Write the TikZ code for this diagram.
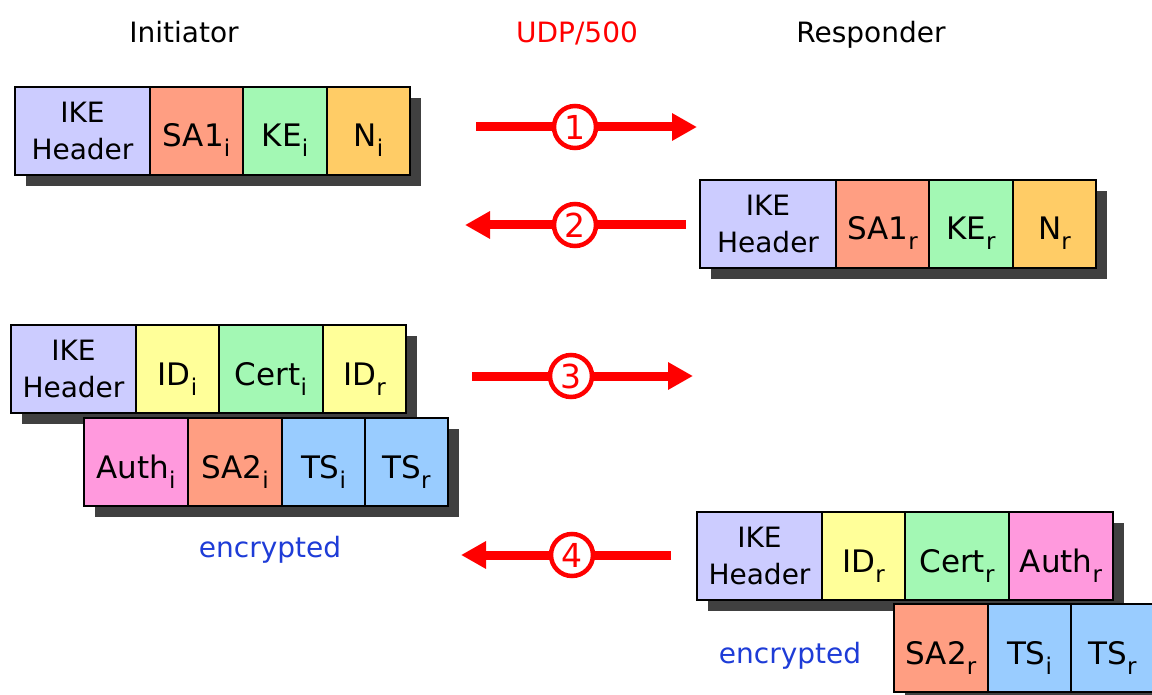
\documentclass[tikz,border=0pt]{standalone}
\usepackage{fontspec}
\setmainfont{DejaVu Sans}
\usetikzlibrary{arrows.meta}

\definecolor{hdr}{RGB}{204,204,255}
\definecolor{sa}{RGB}{255,158,130}
\definecolor{ke}{RGB}{163,248,180}
\definecolor{nonce}{RGB}{255,204,102}
\definecolor{idc}{RGB}{255,255,153}
\definecolor{auth}{RGB}{255,153,221}
\definecolor{ts}{RGB}{153,204,255}
\definecolor{dropgray}{RGB}{64,64,64}
\definecolor{encblue}{RGB}{30,60,215}

% lowered, smaller index letter
\newcommand\lo[1]{\raisebox{-10pt}{\fontsize{23}{23}\selectfont #1}}

% one payload field: [extra style] name, left x, right x, top y, fill, text
\newcommand\field[7][]{%
  \node[cellbox, fill=#6, minimum width={#4-#3}, #1] (#2) at ({(#3+#4)/2},{#5+44}) {#7};}
% drop shadow under a row of fields: left x, right x, top y
\newcommand\rowshadow[3]{%
  \fill[dropgray] ({#1+11},{#3+11}) rectangle ({#2+11},{#3+99});}

\tikzset{
  big/.style={font=\fontsize{28}{36}\selectfont},
  cellbox/.style={draw=black, line width=2.5pt, minimum height=88pt,
    inner sep=0pt, font=\fontsize{31}{36}\selectfont,
    text height=32pt, text depth=0pt},
  hdrbox/.style={font=\fontsize{28}{37}\selectfont, text height=, text depth=,
    align=center},
  title/.style={big, anchor=base},
  enc/.style={big, anchor=base, text=encblue},
  stepmark/.style={circle, draw=red, fill=white, line width=4.5pt,
    minimum size=42pt, inner sep=0pt, text=red,
    font=\fontsize{33}{33}\selectfont},
  flow/.style={draw=red, line width=9pt,
    -{Triangle[length=25pt,width=26pt]}}
}

\begin{document}
\begin{tikzpicture}[x=1pt,y=-1pt]
\useasboundingbox (0,0) rectangle (1152,695);
\clip (0,0) rectangle (1152,695);

% column titles
\node[title] (ini) at (184,43) {Initiator};
\node[title, text=red] (udp) at (577,43) {UDP/500};
\node[title] (rsp) at (871,43) {Responder};

% message 1: initiator -> responder
\rowshadow{15}{410}{87}
\field[hdrbox]{m1h}{15}{150}{87}{hdr}{IKE\\Header}
\field{m1sa}{150}{243}{87}{sa}{SA1\lo{i}}
\field{m1ke}{243}{327}{87}{ke}{KE\lo{i}}
\field{m1n}{327}{410}{87}{nonce}{N\lo{i}}

% message 2: responder -> initiator
\rowshadow{700}{1096}{180}
\field[hdrbox]{m2h}{700}{836}{180}{hdr}{IKE\\Header}
\field{m2sa}{836}{929}{180}{sa}{SA1\lo{r}}
\field{m2ke}{929}{1013}{180}{ke}{KE\lo{r}}
\field{m2n}{1013}{1096}{180}{nonce}{N\lo{r}}

% message 3: initiator -> responder (two rows)
\rowshadow{11}{406}{325}
\field[hdrbox]{m3h}{11}{136}{325}{hdr}{IKE\\Header}
\field{m3idi}{136}{219}{325}{idc}{ID\lo{i}}
\field{m3cert}{219}{323}{325}{ke}{Cert\lo{i}}
\field{m3idr}{323}{406}{325}{idc}{ID\lo{r}}
\rowshadow{84}{448}{418}
\field{m3auth}{84}{188}{418}{auth}{Auth\lo{i}}
\field{m3sa}{188}{282}{418}{sa}{SA2\lo{i}}
\field{m3tsi}{282}{365}{418}{ts}{TS\lo{i}}
\field{m3tsr}{365}{448}{418}{ts}{TS\lo{r}}
\node[enc] (enc3) at (270,557) {encrypted};

% message 4: responder -> initiator (two rows)
\rowshadow{697}{1113}{512}
\field[hdrbox]{m4h}{697}{822}{512}{hdr}{IKE\\Header}
\field{m4idr}{822}{905}{512}{idc}{ID\lo{r}}
\field{m4cert}{905}{1009}{512}{ke}{Cert\lo{r}}
\field{m4auth}{1009}{1113}{512}{auth}{Auth\lo{r}}
\rowshadow{894}{1154}{604}
\field{m4sa}{894}{988}{604}{sa}{SA2\lo{r}}
\field{m4tsi}{988}{1071}{604}{ts}{TS\lo{i}}
\field{m4tsr}{1071}{1154}{604}{ts}{TS\lo{r}}
\node[enc] (enc4) at (790,663) {encrypted};

% exchange arrows with step numbers
\node[stepmark] (s1) at (575,127) {1};
\node[stepmark] (s2) at (575,225) {2};
\node[stepmark] (s3) at (571,376) {3};
\node[stepmark] (s4) at (572,555) {4};
\coordinate (t1) at (476,127); \coordinate (e1) at (697,127);
\coordinate (t2) at (686,225); \coordinate (e2) at (465,225);
\coordinate (t3) at (472,376); \coordinate (e3) at (693,376);
\coordinate (t4) at (671,555); \coordinate (e4) at (461,555);
\path[flow] (t1) -- (s1) -- (e1);
\path[flow] (t2) -- (s2) -- (e2);
\path[flow] (t3) -- (s3) -- (e3);
\path[flow] (t4) -- (s4) -- (e4);
\end{tikzpicture}
\end{document}
